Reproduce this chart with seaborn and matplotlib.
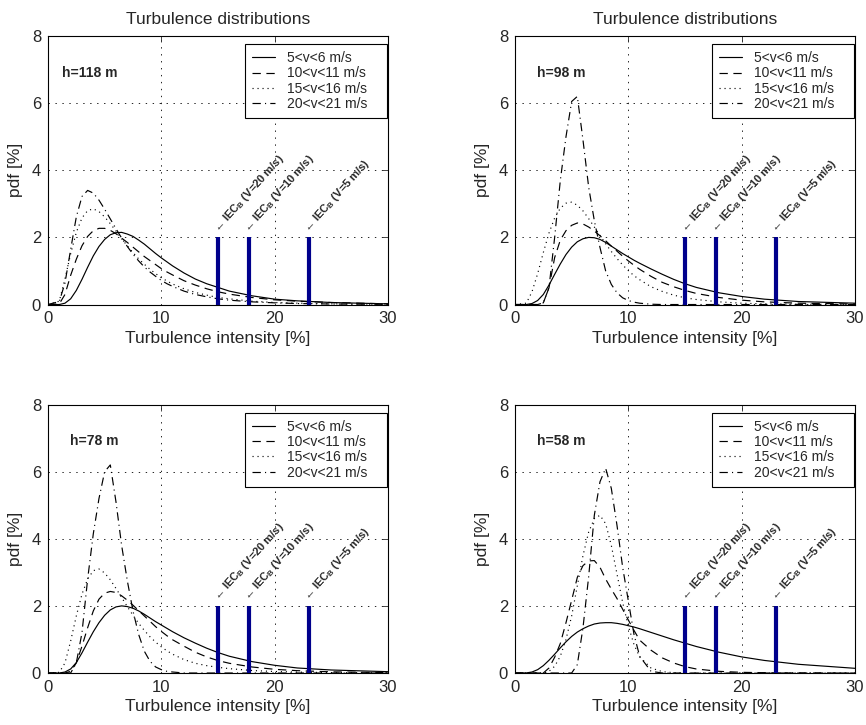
import numpy as np
import pandas as pd
import matplotlib
matplotlib.use("Agg")
import matplotlib.pyplot as plt
import seaborn as sns

# turbulence intensity grid [%]
ti = [0, 1, 1.5, 2, 2.5, 3, 3.5, 4, 4.5, 5, 5.5, 6, 6.5, 7, 7.5, 8, 8.5, 9, 9.5, 10,
      10.5, 11, 12, 13, 14, 15, 16, 18, 20, 22, 25, 30]

# pdf [%], h=118 m
h118_v5 = [0, 0, 0.04, 0.17, 0.42, 0.75, 1.11, 1.45, 1.73, 1.94, 2.08, 2.14, 2.15, 2.10, 2.03, 1.92,
           1.80, 1.66, 1.52, 1.39, 1.27, 1.15, 0.94, 0.76, 0.62, 0.51, 0.40, 0.26, 0.16, 0.11, 0.06, 0.02]
h118_v10 = [0, 0.02, 0.30, 0.87, 1.35, 1.75, 2.03, 2.20, 2.27, 2.27, 2.21, 2.11, 1.98, 1.85, 1.71, 1.57,
            1.43, 1.31, 1.19, 1.07, 0.97, 0.88, 0.71, 0.58, 0.47, 0.38, 0.31, 0.21, 0.14, 0.10, 0.06, 0.02]
h118_v15 = [0, 0.10, 0.77, 1.51, 2.15, 2.58, 2.80, 2.85, 2.77, 2.61, 2.41, 2.19, 1.96, 1.75, 1.55, 1.36,
            1.20, 1.05, 0.92, 0.80, 0.70, 0.61, 0.47, 0.36, 0.28, 0.21, 0.17, 0.10, 0.06, 0.04, 0.02, 0.01]
h118_v20 = [0, 0.09, 0.64, 1.64, 2.61, 3.22, 3.40, 3.32, 3.11, 2.84, 2.55, 2.26, 1.98, 1.73, 1.50, 1.30,
            1.12, 0.97, 0.84, 0.72, 0.62, 0.54, 0.40, 0.30, 0.23, 0.17, 0.13, 0.08, 0.05, 0.03, 0.015, 0.005]

# h=98 m
h98_v5 = [0, 0, 0.03, 0.12, 0.30, 0.58, 0.90, 1.21, 1.49, 1.71, 1.87, 1.96, 2.00, 1.99, 1.94, 1.85,
          1.74, 1.63, 1.52, 1.42, 1.32, 1.23, 1.06, 0.90, 0.75, 0.62, 0.51, 0.35, 0.24, 0.16, 0.09, 0.04]
h98_v10 = [0, 0, 0, 0, 0.05, 0.50, 1.40, 1.92, 2.20, 2.36, 2.43, 2.40, 2.31, 2.19, 2.05, 1.90,
           1.74, 1.59, 1.44, 1.30, 1.17, 1.05, 0.84, 0.66, 0.53, 0.42, 0.33, 0.21, 0.13, 0.08, 0.04, 0.016]
h98_v15 = [0, 0.04, 0.38, 0.92, 1.55, 2.13, 2.58, 2.87, 3.02, 3.05, 2.96, 2.79, 2.56, 2.31, 2.06, 1.81,
           1.58, 1.37, 1.18, 1.01, 0.86, 0.74, 0.53, 0.39, 0.28, 0.20, 0.15, 0.08, 0.04, 0.02, 0.01, 0]
h98_v20 = [0, 0, 0, 0, 0.05, 0.50, 2.00, 3.70, 5.00, 6.05, 6.20, 4.90, 3.50, 2.50, 1.70, 1.00,
           0.60, 0.35, 0.20, 0.12, 0.07, 0.04, 0.01, 0, 0, 0, 0, 0, 0, 0, 0, 0]

# h=78 m
h78_v5 = [0, 0, 0.03, 0.12, 0.31, 0.60, 0.92, 1.23, 1.50, 1.72, 1.88, 1.97, 2.00, 1.98, 1.93, 1.85,
          1.75, 1.64, 1.53, 1.43, 1.33, 1.23, 1.05, 0.89, 0.74, 0.61, 0.50, 0.34, 0.23, 0.15, 0.09, 0.04]
h78_v10 = [0, 0, 0, 0.05, 0.30, 0.80, 1.35, 1.85, 2.20, 2.38, 2.43, 2.40, 2.30, 2.17, 2.02, 1.86,
           1.70, 1.54, 1.38, 1.24, 1.11, 0.99, 0.80, 0.62, 0.48, 0.37, 0.29, 0.18, 0.11, 0.07, 0.035, 0.012]
h78_v15 = [0, 0.02, 0.30, 0.95, 1.70, 2.35, 2.80, 3.05, 3.10, 2.98, 2.78, 2.52, 2.25, 1.98, 1.72, 1.48,
           1.27, 1.08, 0.92, 0.78, 0.66, 0.56, 0.40, 0.29, 0.22, 0.17, 0.13, 0.075, 0.045, 0.027, 0.012, 0.004]
h78_v20 = [0, 0, 0, 0, 0.30, 1.20, 2.80, 4.15, 5.20, 6.00, 6.20, 5.10, 3.80, 2.75, 1.85, 1.15,
           0.65, 0.35, 0.18, 0.10, 0.05, 0.03, 0, 0, 0, 0, 0, 0, 0, 0, 0, 0]

# h=58 m
h58_v5 = [0, 0.003, 0.03, 0.10, 0.22, 0.38, 0.56, 0.75, 0.93, 1.09, 1.22, 1.32, 1.40, 1.46, 1.49, 1.50,
          1.50, 1.48, 1.45, 1.41, 1.37, 1.32, 1.21, 1.10, 0.99, 0.89, 0.79, 0.62, 0.48, 0.375, 0.26, 0.14]
h58_v10 = [0, 0, 0, 0, 0, 0.15, 0.47, 0.88, 1.50, 2.17, 2.85, 3.20, 3.34, 3.35, 3.15, 2.80,
           2.50, 2.22, 1.90, 1.58, 1.27, 0.98, 0.68, 0.45, 0.30, 0.19, 0.12, 0.05, 0.02, 0.01, 0, 0]
h58_v15 = [0, 0, 0, 0, 0, 0.05, 0.20, 0.50, 1.00, 1.70, 2.60, 3.50, 4.20, 4.60, 4.70, 4.45,
           3.80, 2.95, 2.10, 1.40, 0.85, 0.48, 0.15, 0.04, 0.01, 0, 0, 0, 0, 0, 0, 0]
h58_v20 = [0, 0, 0, 0, 0, 0, 0, 0, 0, 0, 0.25, 1.35, 2.87, 4.70, 5.70, 6.10,
           5.50, 4.40, 3.15, 2.15, 1.15, 0.50, 0.05, 0, 0, 0, 0, 0, 0, 0, 0, 0]

heights = [118, 98, 78, 58]
speed_bins = ["5<v<6 m/s", "10<v<11 m/s", "15<v<16 m/s", "20<v<21 m/s"]
iec_ti = [15, 17.7, 23]
iec_v = [20, 10, 5]

curves = {
    118: [h118_v5, h118_v10, h118_v15, h118_v20],
    98: [h98_v5, h98_v10, h98_v15, h98_v20],
    78: [h78_v5, h78_v10, h78_v15, h78_v20],
    58: [h58_v5, h58_v10, h58_v15, h58_v20],
}

rows = []
for h in heights:
    for lab, ys in zip(speed_bins, curves[h]):
        for x, y in zip(ti, ys):
            rows.append((h, lab, x, y))
df = pd.DataFrame(rows, columns=["height", "speed", "ti", "pdf"])

sns.set_style("white")
plt.rcParams["font.family"] = ["Liberation Sans", "DejaVu Sans"]
plt.rcParams["mathtext.fontset"] = "custom"
plt.rcParams["mathtext.rm"] = "Liberation Sans"
plt.rcParams["mathtext.bf"] = "Liberation Sans:bold"
plt.rcParams["mathtext.it"] = "Liberation Sans:italic"
plt.rcParams["lines.scale_dashes"] = False

line_dashes = {
    "5<v<6 m/s": "",
    "10<v<11 m/s": (6, 4),
    "15<v<16 m/s": (0.8, 2.8),
    "20<v<21 m/s": (6, 3, 0.8, 3),
}

fig, axes = plt.subplots(2, 2, figsize=(8.66, 7.25), dpi=100)
fig.subplots_adjust(left=0.0554, right=0.9873, bottom=0.0717, top=0.9503,
                    wspace=0.3735, hspace=0.3724)
axes = axes.flatten()

h_text_x = [1.2, 1.9, 1.9, 1.9]

for i, h in enumerate(heights):
    ax = axes[i]
    sub = df[df["height"] == h]
    sns.lineplot(data=sub, x="ti", y="pdf", style="speed", style_order=speed_bins,
                 dashes=line_dashes, color="black", linewidth=0.85, legend=False,
                 ax=ax, zorder=3)

    # IEC class B reference values
    ax.vlines(iec_ti, 0, 2, color="#00008C", linewidth=3, zorder=4)
    for x, v in zip(iec_ti, iec_v):
        ax.text(x + 0.25, 2.08, "\u2190 IEC$_\\mathbf{B}$ (V=%d m/s)" % v,
                rotation=48, rotation_mode="anchor", ha="left", va="bottom",
                fontsize=8, fontweight="bold")

    ax.text(h_text_x[i], 6.9, "h=%d m" % h, fontsize=10, fontweight="bold", va="center")

    ax.set_xlim(0, 30)
    ax.set_ylim(0, 8)
    ax.set_xticks([0, 10, 20, 30])
    ax.set_yticks([0, 2, 4, 6, 8])
    ax.grid(True, linestyle=(0, (1, 4)), color="black", linewidth=0.6)
    ax.set_axisbelow(True)
    ax.tick_params(direction="in", top=True, right=True, length=4, width=0.6,
                   labelsize=12, pad=5)
    for sp in ax.spines.values():
        sp.set_linewidth(0.8)
        sp.set_color("black")
    ax.set_xlabel("Turbulence intensity [%]", fontsize=12.5, labelpad=3)
    ax.set_ylabel("pdf [%]", fontsize=12.5, labelpad=6)
    if i < 2:
        ax.set_title("Turbulence distributions", fontsize=12.5, pad=9)

    leg = ax.legend(ax.lines[:4], speed_bins, loc="upper left",
                    bbox_to_anchor=(0.579, 0.97, 0.418, 0), mode="expand",
                    borderaxespad=0, fontsize=10,
                    handlelength=1.7, handletextpad=0.8, borderpad=0.5,
                    labelspacing=0.1, fancybox=False, framealpha=1,
                    edgecolor="black")
    leg.get_frame().set_linewidth(0.8)

plt.savefig("out.png", dpi=100)
